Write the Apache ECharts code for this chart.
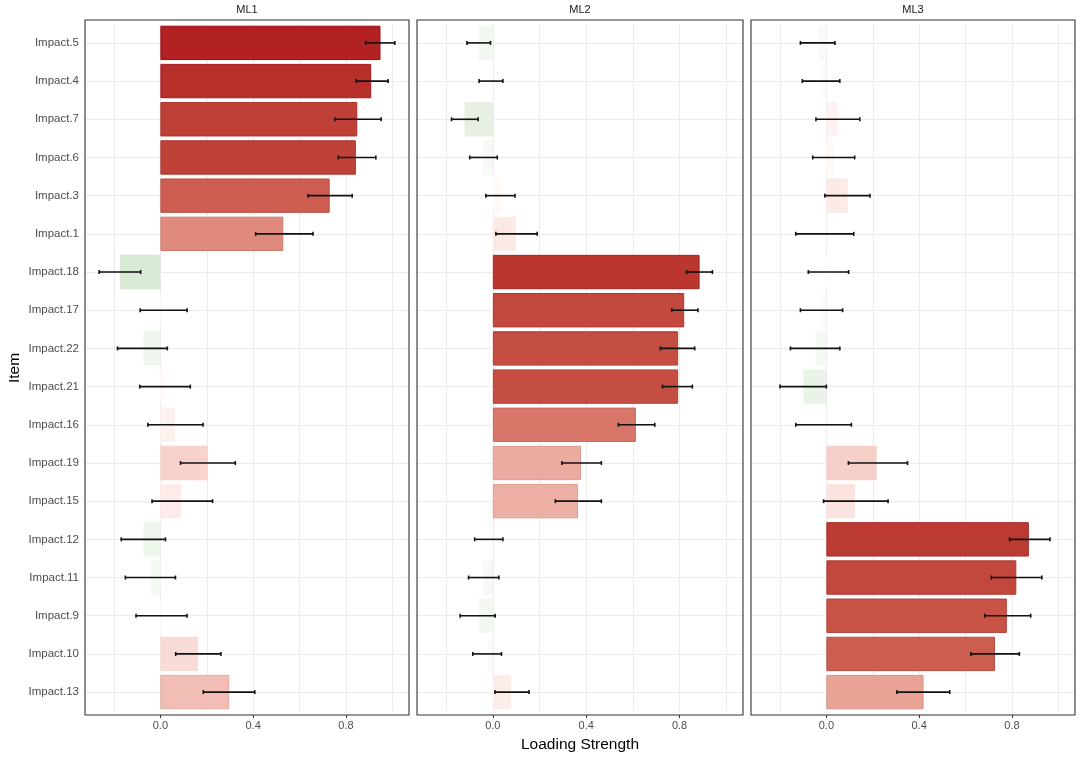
<!DOCTYPE html>
<html>
<head>
<meta charset="utf-8">
<script src="https://cdn.jsdelivr.net/npm/echarts@6/dist/echarts.min.js"></script>
<style>
  html, body { margin: 0; padding: 0; background: #fff; }
  #chart { width: 1084px; height: 760px; }
</style>
</head>
<body>
<div id="chart"></div>
<script>
// items, top to bottom
const items = ['Impact.5', 'Impact.4', 'Impact.7', 'Impact.6', 'Impact.3', 'Impact.1',
  'Impact.18', 'Impact.17', 'Impact.22', 'Impact.21', 'Impact.16', 'Impact.19',
  'Impact.15', 'Impact.12', 'Impact.11', 'Impact.9', 'Impact.10', 'Impact.13'];

const factors = ['ML1', 'ML2', 'ML3'];

// loadings + interval ends
const ml1 = [0.949, 0.909, 0.849, 0.843, 0.730, 0.530, -0.175, 0.014, -0.073, 0.020, 0.063, 0.204, 0.090, -0.073, -0.042, 0.005, 0.163, 0.297];
const ml1Lo = [0.885, 0.844, 0.753, 0.767, 0.637, 0.411, -0.264, -0.087, -0.185, -0.089, -0.054, 0.087, -0.036, -0.169, -0.151, -0.105, 0.066, 0.185];
const ml1Hi = [1.011, 0.982, 0.952, 0.929, 0.827, 0.658, -0.085, 0.115, 0.030, 0.129, 0.184, 0.323, 0.225, 0.022, 0.065, 0.115, 0.261, 0.407];

const ml2 = [-0.060, -0.008, -0.121, -0.042, 0.033, 0.099, 0.886, 0.820, 0.794, 0.794, 0.613, 0.378, 0.365, -0.018, -0.042, -0.060, -0.022, 0.078];
const ml2Lo = [-0.111, -0.059, -0.177, -0.099, -0.030, 0.013, 0.830, 0.767, 0.718, 0.727, 0.538, 0.296, 0.268, -0.078, -0.104, -0.140, -0.086, 0.009];
const ml2Hi = [-0.010, 0.043, -0.063, 0.019, 0.095, 0.190, 0.941, 0.879, 0.865, 0.855, 0.694, 0.465, 0.465, 0.043, 0.026, 0.010, 0.037, 0.155];

const ml3 = [-0.035, -0.023, 0.052, 0.030, 0.092, -0.007, 0.009, -0.021, -0.047, -0.099, -0.012, 0.217, 0.124, 0.873, 0.819, 0.778, 0.727, 0.419];
const ml3Lo = [-0.112, -0.104, -0.045, -0.059, -0.007, -0.132, -0.078, -0.112, -0.155, -0.200, -0.132, 0.095, -0.012, 0.790, 0.711, 0.683, 0.623, 0.304];
const ml3Hi = [0.037, 0.058, 0.144, 0.122, 0.188, 0.118, 0.096, 0.070, 0.058, 0.000, 0.108, 0.350, 0.266, 0.964, 0.929, 0.881, 0.832, 0.532];

const xTicks = [0, 0.4, 0.8];
const xGridVals = [-0.2, 0, 0.2, 0.4, 0.6, 0.8, 1.0];

const loads = [ml1, ml2, ml3];
const lows = [ml1Lo, ml2Lo, ml3Lo];
const highs = [ml1Hi, ml2Hi, ml3Hi];

// ---- diverging fill, interpolated in Lab like ggplot's gradient2 ----
function toLin(c) { c /= 255; return c <= 0.04045 ? c / 12.92 : Math.pow((c + 0.055) / 1.055, 2.4); }
function toSrgb(c) { c = c <= 0.0031308 ? 12.92 * c : 1.055 * Math.pow(c, 1 / 2.4) - 0.055; return Math.max(0, Math.min(255, Math.round(c * 255))); }
function hexToLab(hex) {
  const r = toLin(parseInt(hex.slice(1, 3), 16)), g = toLin(parseInt(hex.slice(3, 5), 16)), b = toLin(parseInt(hex.slice(5, 7), 16));
  let x = (r * 0.4124 + g * 0.3576 + b * 0.1805) / 0.95047;
  let y = (r * 0.2126 + g * 0.7152 + b * 0.0722);
  let z = (r * 0.0193 + g * 0.1192 + b * 0.9505) / 1.08883;
  const f = t => t > 0.008856 ? Math.cbrt(t) : 7.787 * t + 16 / 116;
  x = f(x); y = f(y); z = f(z);
  return [116 * y - 16, 500 * (x - y), 200 * (y - z)];
}
function labToRgb(L, a, bb) {
  let y = (L + 16) / 116, x = a / 500 + y, z = y - bb / 200;
  const fi = t => t * t * t > 0.008856 ? t * t * t : (t - 16 / 116) / 7.787;
  x = fi(x) * 0.95047; y = fi(y); z = fi(z) * 1.08883;
  const r = x * 3.2406 + y * -1.5372 + z * -0.4986;
  const g = x * -0.9689 + y * 1.8758 + z * 0.0415;
  const b = x * 0.0557 + y * -0.2040 + z * 1.0570;
  return [toSrgb(r), toSrgb(g), toSrgb(b)];
}
const labHigh = hexToLab('#b22222');
const labLow = hexToLab('#228b22');
const labMid = hexToLab('#ffffff');
// scale is symmetric around 0, the biggest |loading| gets the full colour
const maxAbs = Math.max(...loads.flat().map(Math.abs));
function fillFor(v, k) {
  const t = Math.min(1, Math.abs(v) / maxAbs);
  const end = v >= 0 ? labHigh : labLow;
  const L = labMid[0] + (end[0] - labMid[0]) * t;
  const a = labMid[1] + (end[1] - labMid[1]) * t;
  const b = labMid[2] + (end[2] - labMid[2]) * t;
  const c = labToRgb(L - (k || 0), a, b);
  return 'rgb(' + c.join(',') + ')';
}

// ---- panel layout ----
const panels = [
  { left: 85, width: 324 },
  { left: 417, width: 326 },
  { left: 751, width: 324 }
];
const panelTop = 20, panelBottom = 715;
const pad = 3.8; // ggplot expands discrete axes by 0.6 band instead of 0.5
const font = 'Liberation Sans, Arial, sans-serif';

const grids = [], xAxes = [], yAxes = [], series = [], graphics = [];

panels.forEach((p, i) => {
  grids.push({
    left: p.left, width: p.width,
    top: panelTop + pad, height: panelBottom - panelTop - 2 * pad,
    outerBoundsMode: 'none', containLabel: false, show: false
  });
  xAxes.push({
    type: 'value', gridIndex: i, min: -0.325, max: 1.072,
    offset: pad,
    axisLine: { show: false },
    splitLine: { show: false },
    axisTick: { show: true, customValues: xTicks, length: 3, lineStyle: { color: '#333', width: 1 } },
    axisLabel: {
      customValues: xTicks, margin: 5, color: '#4d4d4d', fontSize: 11,
      fontFamily: font,
      formatter: v => v.toFixed(1)
    }
  });
  yAxes.push({
    type: 'category', gridIndex: i, data: items, inverse: true,
    axisLine: { show: false },
    splitLine: { show: false },
    axisTick: { show: i === 0, alignWithLabel: true, length: 3.5, lineStyle: { color: '#333', width: 1 } },
    axisLabel: {
      show: i === 0, interval: 0, margin: 6, color: '#4d4d4d', fontSize: 11.5,
      fontFamily: font
    }
  });

  series.push({
    type: 'bar', name: factors[i], xAxisIndex: i, yAxisIndex: i,
    barCategoryGap: '10%', z: 2, silent: true,
    data: loads[i].map(v => ({
      value: v,
      itemStyle: { color: fillFor(v), borderColor: fillFor(v, 6), borderWidth: Math.abs(v) > 0.25 ? 1 : 0 }
    })),
    markLine: {
      silent: true, symbol: 'none', z: 1, animation: false,
      label: { show: false },
      lineStyle: { color: '#ebebeb', width: 1, type: 'solid' },
      data: xGridVals.map(v => ({ xAxis: v })).concat(items.map(c => ({ yAxis: c })))
    }
  });

  series.push({
    type: 'custom', xAxisIndex: i, yAxisIndex: i, z: 4, silent: true,
    data: items.map((c, k) => [lows[i][k], highs[i][k], k]),
    renderItem: (params, api) => {
      const a = api.coord([api.value(0), api.value(2)]);
      const b = api.coord([api.value(1), api.value(2)]);
      const h = 2;
      const st = { stroke: '#111', lineWidth: 1.6 };
      return {
        type: 'group',
        children: [
          { type: 'line', shape: { x1: a[0], y1: a[1], x2: b[0], y2: b[1] }, style: st },
          { type: 'line', shape: { x1: a[0], y1: a[1] - h, x2: a[0], y2: a[1] + h }, style: st },
          { type: 'line', shape: { x1: b[0], y1: b[1] - h, x2: b[0], y2: b[1] + h }, style: st }
        ]
      };
    }
  });

  // panel border
  graphics.push({
    type: 'rect', z: 100, silent: true,
    shape: { x: p.left, y: panelTop, width: p.width, height: panelBottom - panelTop },
    style: { fill: 'none', stroke: '#333', lineWidth: 1.1 }
  });
  // facet strip label
  graphics.push({
    type: 'text', z: 100, silent: true,
    x: p.left + p.width / 2, y: 10,
    style: {
      text: factors[i], fill: '#1a1a1a', fontSize: 11,
      fontFamily: font,
      align: 'center', verticalAlign: 'middle'
    }
  });
});

graphics.push({
  type: 'text', z: 100, silent: true,
  x: 580, y: 745,
  style: {
    text: 'Loading Strength', fill: '#000', fontSize: 15.5,
    fontFamily: font,
    align: 'center', verticalAlign: 'middle'
  }
});
graphics.push({
  type: 'text', z: 100, silent: true,
  x: 15, y: 368, rotation: Math.PI / 2,
  style: {
    text: 'Item', fill: '#000', fontSize: 15.5,
    fontFamily: font,
    align: 'center', verticalAlign: 'middle'
  }
});

const chart = echarts.init(document.getElementById('chart'), null, { renderer: 'canvas' });
chart.setOption({
  animation: false,
  backgroundColor: '#fff',
  grid: grids,
  xAxis: xAxes,
  yAxis: yAxes,
  series: series,
  graphic: graphics
});
</script>
</body>
</html>
